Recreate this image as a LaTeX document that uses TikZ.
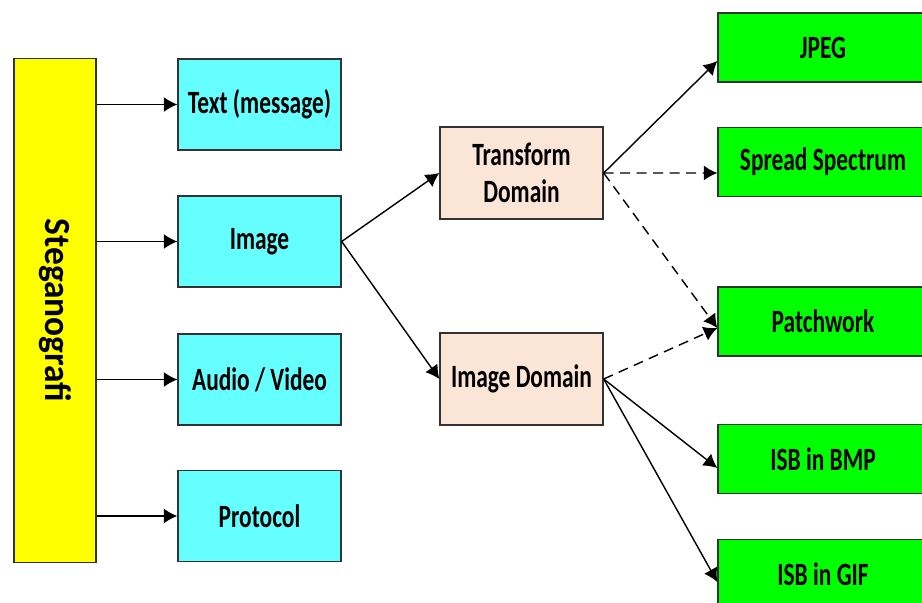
\documentclass[tikz,border=0pt]{standalone}
\usepackage{fontspec}
\setmainfont{Carlito}
\newfontfamily\labfont{Carlito}[FakeStretch=0.72]
\usepackage{graphicx}
\usetikzlibrary{arrows.meta}
\definecolor{stegyellow}{HTML}{FFFF00}
\definecolor{mediacyan}{HTML}{66FFFF}
\definecolor{domainpeach}{HTML}{FBE5D6}
\definecolor{methodgreen}{HTML}{00FF00}
\tikzset{
  box/.style={draw=black!80, line width=0.8pt, inner sep=2pt, align=center,
    font=\labfont\bfseries\fontsize{18.5}{21}\selectfont},
  mediabox/.style={box, fill=mediacyan, minimum width=3.26cm, minimum height=1.82cm},
  dombox/.style={box, fill=domainpeach, minimum width=3.26cm, minimum height=1.84cm},
  methodbox/.style={box, fill=methodgreen, minimum width=4.2cm, minimum height=1.38cm},
}

\begin{document}
\begin{tikzpicture}[x=0.02cm,y=-0.02cm]
    \useasboundingbox (0,0) rectangle (922,602);
    \clip (0,0) rectangle (922,602);
    % left column
    \node[box, fill=stegyellow, minimum width=1.64cm, minimum height=10.08cm]
      (steg) at (55,310.5) {\rotatebox{-90}{\scalebox{1}[0.75]{\bfseries\fontsize{28}{30}\selectfont Steganografi}}};
    \node[mediabox] (txt) at (259.5,104.5) {Text (message)};
    \node[mediabox] (img) at (259.5,241.5) {Image};
    \node[mediabox] (av) at (259.5,379.5) {Audio / Video};
    \node[mediabox] (proto) at (259.5,516) {Protocol};
    % domains
    \node[dombox] (tdom) at (521.5,173) {Transform\\Domain};
    \node[dombox] (idom) at (521.5,379) {Image Domain};
    % methods
    \node[methodbox] (jpeg) at (823,47.5) {JPEG};
    \node[methodbox] (spread) at (823,162) {Spread Spectrum};
    \node[methodbox] (patch) at (823,321.5) {Patchwork};
    \node[methodbox] (bmp) at (823,459) {ISB in BMP};
    \node[methodbox] (gif) at (823,574) {ISB in GIF};
    \path[->,line width=0.8pt,>={Latex[length=2.7mm,width=3mm]}]
      (steg.east |- txt.west) edge (txt.west)
      (steg.east |- img.west) edge (img.west)
      (steg.east |- av.west) edge (av.west)
      (steg.east |- proto.west) edge (proto.west)
      (img.east) edge (tdom.west)
      (img.east) edge (idom.west)
      (tdom.east) edge ([yshift=-0.27cm]jpeg.west)
      (idom.east) edge ([yshift=-0.18cm]bmp.west)
      (idom.east) edge ([yshift=-0.16cm]gif.west);
    \path[->,line width=0.8pt,>={Latex[length=2.7mm,width=3mm]},
        dash pattern=on 2mm off 1.3mm]
      (tdom.east) edge ([yshift=-0.22cm]spread.west)
      (tdom.east) edge ([yshift=-0.13cm]patch.west)
      (idom.east) edge ([yshift=-0.13cm]patch.west);
\end{tikzpicture}
\end{document}
